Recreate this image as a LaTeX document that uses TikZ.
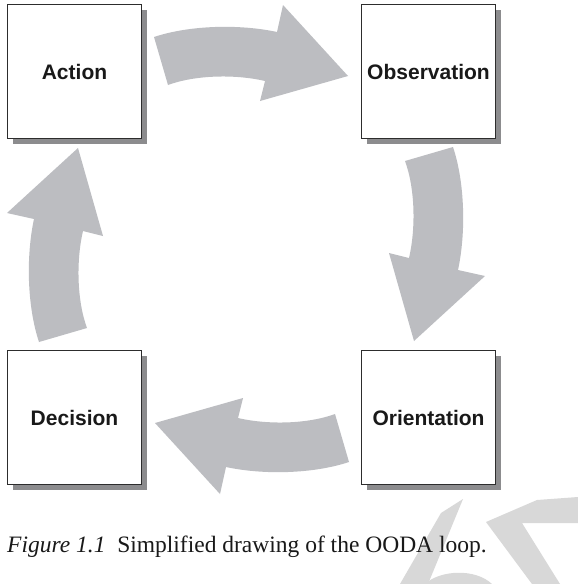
\documentclass[tikz,border=0pt]{standalone}
\usepackage{fontspec}
\setmainfont{Liberation Serif}
\setsansfont{Liberation Sans}
\usetikzlibrary{shadows}
\definecolor{arrowgray}{RGB}{188,189,193}
\definecolor{shadowgray}{RGB}{140,140,142}
\definecolor{boxline}{RGB}{45,45,45}
\definecolor{wmgray}{RGB}{216,216,216}
\newcommand{\oodaarrow}{\fill[arrowgray] (154,37) .. controls (190,25) and (240,24) .. (277,32) -- (283,5) -- (348,76) -- (260,101) -- (265,81) .. controls (235,74) and (195,75) .. (168,85) -- cycle;}
\tikzset{
  oodabox/.style={draw=boxline, line width=1.3pt, fill=white,
    minimum width=134pt, minimum height=134pt, inner sep=0pt,
    font=\sffamily\bfseries\fontsize{21}{25}\selectfont, text=black!90,
    drop shadow={shadow xshift=5pt, shadow yshift=-5pt, fill=shadowgray, opacity=1}},
  captext/.style={anchor=base west, inner sep=0pt, font=\fontsize{23.5}{28}\selectfont, text=black!90}
}
\begin{document}
\begin{tikzpicture}[x=1pt,y=-1pt]
\useasboundingbox[fill=white] (0,0) rectangle (578,584);
% watermark fragments
\fill[wmgray] (441,513) -- (463,499) -- (428,584) -- (400,584) -- cycle;
\fill[wmgray] (486,522) -- (537,500) -- (578,497) -- (578,523) -- (522,523) -- (560,584) -- (532,584) -- cycle;
\fill[wmgray] (425,584) .. controls (440,570) and (475,568) .. (492,584) -- cycle;
% arrows
\oodaarrow
\begin{scope}[rotate around={-90:(248.5,241.5)}]\oodaarrow\end{scope}
\begin{scope}[rotate around={180:(251.5,249.5)}]\oodaarrow\end{scope}
\begin{scope}[rotate around={90:(249,247)}]\oodaarrow\end{scope}
% boxes
\node[oodabox] (act) at (74.5,71.5) {Action};
\node[oodabox] (obs) at (428.5,71.5) {Observation};
\node[oodabox] (ori) at (428.5,417.5) {Orientation};
\node[oodabox] (dec) at (74.5,417.5) {Decision};
% caption
\node[captext] (cap) at (7,552) {\textit{Figure 1.1}\hspace{0.5em}Simplified drawing of the OODA loop.};
\end{tikzpicture}
\end{document}
